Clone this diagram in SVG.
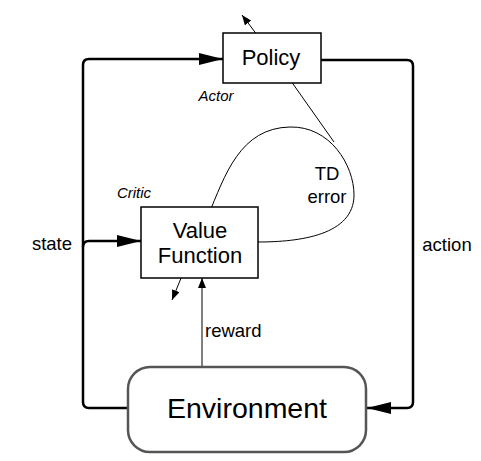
<svg xmlns="http://www.w3.org/2000/svg" width="481" height="461" viewBox="0 0 481 461">
<defs>
<marker id="big" markerWidth="24" markerHeight="12" refX="24" refY="6" orient="auto" markerUnits="userSpaceOnUse"><path d="M0,0 L24,6 L0,12 Z" fill="#000"/></marker>
<marker id="small" markerWidth="10" markerHeight="8" refX="10" refY="4" orient="auto" markerUnits="userSpaceOnUse"><path d="M0,0 L10,4 L0,8 Z" fill="#000"/></marker>
</defs>
<style>
text{font-family:"Liberation Sans",Arial,sans-serif;fill:#000}
.box{fill:#fff;stroke:#000;stroke-width:1.5}
.main{fill:none;stroke:#000;stroke-width:2.5}
.thin{fill:none;stroke:#000;stroke-width:1}
.lbl{font-size:18.5px}
.it{font-size:15px;font-style:italic}
</style>
<rect width="481" height="461" fill="#fff"/>
<g id="connectors">
<path class="main" d="M128,408 H89 Q83,408 83,402 V65 Q83,59 89,59 H223" marker-end="url(#big)"/>
<path class="main" d="M83,247 Q83,241 89,241 H141" marker-end="url(#big)"/>
<path class="main" d="M321,60 H407 Q413,60 413,66 V402 Q413,408 407,408 H367" marker-end="url(#big)"/>
<path class="thin" d="M202,366 V278" stroke="#555" marker-end="url(#small)"/>
<path class="thin" d="M264,44 L242,15" marker-end="url(#small)"/>
<path class="thin" d="M184,271 L172,300" marker-end="url(#small)"/>
<path class="thin" d="M286,74 L334,142"/>
<path class="thin" d="M208,216 C225,175 240,128 290,127 C330,126 354,165 354,195 C354,235 300,242 258,242"/>
</g>
<g id="policy">
<rect class="box" x="223" y="33" width="98" height="50"/>
<text x="271" y="65" font-size="22" text-anchor="middle">Policy</text>
<text class="it" x="216" y="101" text-anchor="middle">Actor</text>
</g>
<g id="value">
<rect class="box" x="141" y="207" width="117" height="71"/>
<text x="200" y="238" font-size="22" text-anchor="middle">Value</text>
<text x="200" y="263" font-size="22" text-anchor="middle">Function</text>
<text class="it" x="134" y="198" text-anchor="middle">Critic</text>
</g>
<g id="environment">
<rect x="128" y="367" width="238" height="85" rx="22" fill="#fff" stroke="#555" stroke-width="2.5"/>
<text x="247" y="418" font-size="28.5" text-anchor="middle">Environment</text>
</g>
<g id="labels">
<text class="lbl" x="327" y="180" text-anchor="middle">TD</text>
<text class="lbl" x="327" y="203" text-anchor="middle">error</text>
<text class="lbl" x="52" y="250" text-anchor="middle">state</text>
<text class="lbl" x="447" y="251" text-anchor="middle">action</text>
<text class="lbl" x="205" y="337">reward</text>
</g>
</svg>
